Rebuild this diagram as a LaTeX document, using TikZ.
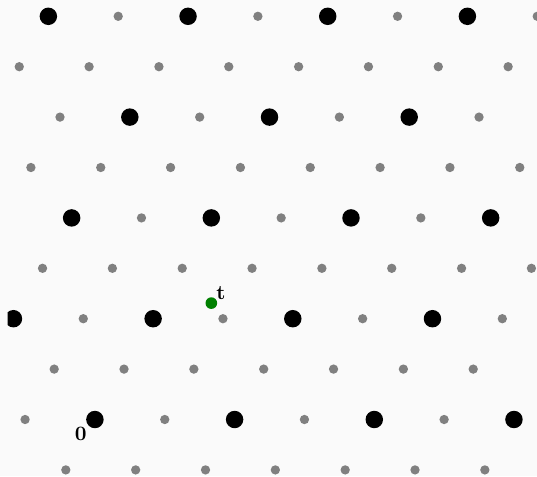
\documentclass[tikz,border=0pt]{standalone}
\usepackage{amsmath,amssymb}
\usepackage{tikz}
\usetikzlibrary{positioning}
\usepackage{xcolor}
\definecolor{fond}{RGB}{250,250,250}
\definecolor{reseau}{RGB}{128,128,128}
\definecolor{cible}{RGB}{0,128,0}

\begin{document}
\begin{tikzpicture}[petit/.style={fill=reseau}, gros/.style={fill=black}]

% Cadre
\useasboundingbox (-1.631,-0.971) rectangle (7.596,7.208);
\fill[fond] (-1.631,-0.971) rectangle (7.596,7.208);

\begin{scope}
\clip (-1.5,-0.971) rectangle (7.596,7.208);

% Réseau fin
\foreach \j in {-1,...,8}
  \foreach \i in {-6,...,7}
    \fill[petit] ({1.2*\i+0.5*\j},{0.866*\j}) circle (0.08);

% Sous-réseau (pas double)
\foreach \j in {0,2,...,8}
  \foreach \i in {-6,-4,...,6}
    \fill[gros] ({1.2*\i+0.5*\j},{0.866*\j}) circle (0.15);
\end{scope}

% Origine
\coordinate (origine) at (0,0);
\node[inner sep=0pt, below left=0.124cm and 0.137cm of origine] (zero) {$\mathbf{0}$};

% Point t
\node[circle, fill=cible, inner sep=0pt, minimum size=0.2cm] (t) at (2,2) {};
\node[inner sep=0pt, above right=0.06cm and 0.08cm of t.center] (tlabel) {$\mathbf{t}$};

\end{tikzpicture}
\end{document}
